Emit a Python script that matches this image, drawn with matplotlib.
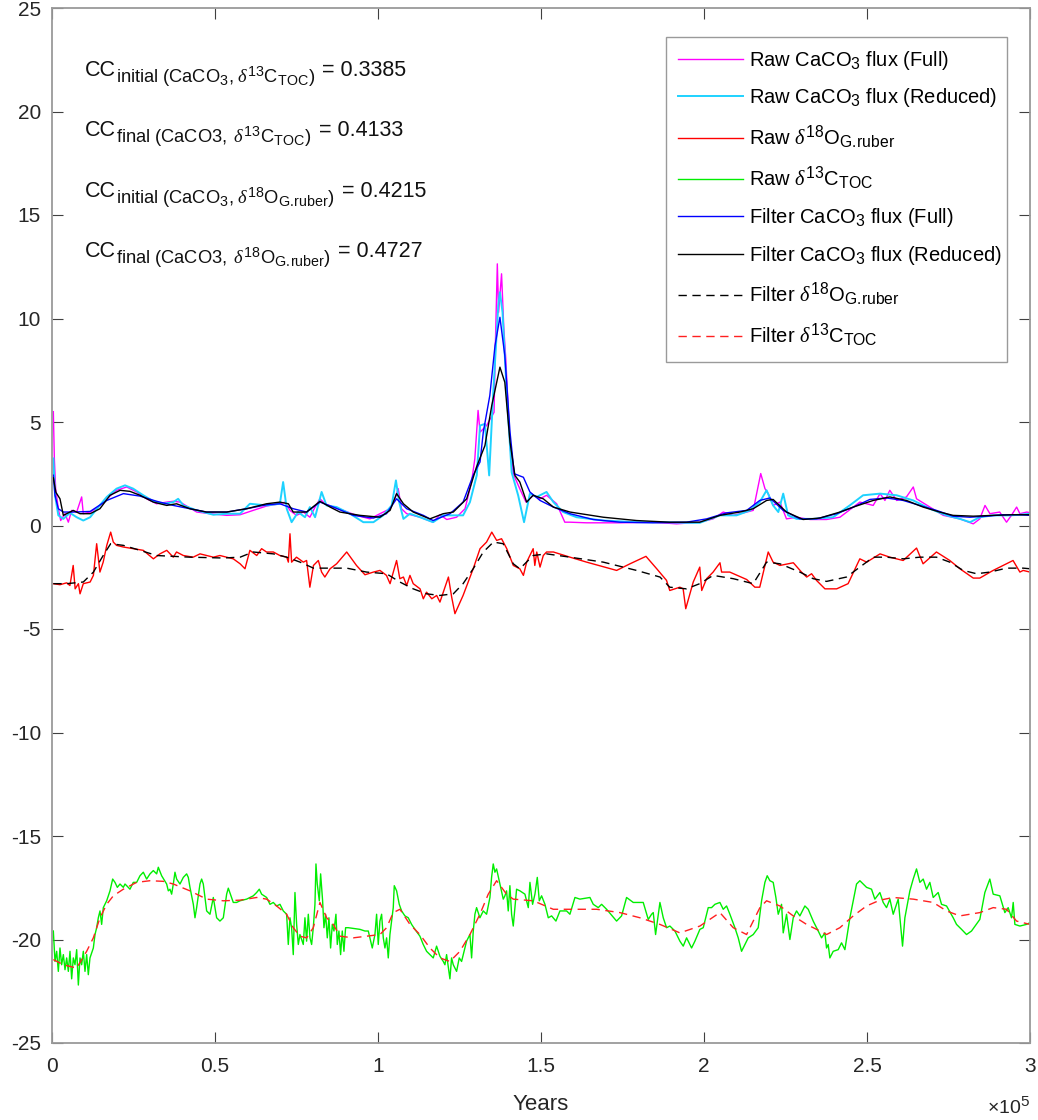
import numpy as np
import matplotlib
matplotlib.use("Agg")
import matplotlib.pyplot as plt
import matplotlib._mathtext as mtext

# MATLAB draws its sub/superscripts a bit larger than mathtext does
mtext.SHRINK_FACTOR = 0.78

plt.rcParams['font.family'] = ['Liberation Sans', 'DejaVu Sans']
plt.rcParams['mathtext.fontset'] = 'custom'
plt.rcParams['mathtext.rm'] = 'Liberation Sans'
plt.rcParams['mathtext.it'] = 'Liberation Serif:italic'
plt.rcParams['mathtext.bf'] = 'Liberation Sans:bold'
plt.rcParams['axes.unicode_minus'] = False

# ---- data (age in kyr) ----
raw_full_kyr = [0.41, 0.72, 1.12, 1.94, 2.66, 3.99, 5.01, 6.03, 7.57, 9.10,
                9.60, 11.7, 14.2, 16.8, 19.8, 22.9, 26.0, 29.0, 32.1, 35.2,
                37.2, 39.3, 41.3, 44.4, 48.5, 53.6, 57.7, 61.7, 65.8, 69.9,
                71.5, 73.0, 75.0, 77.1, 79.1, 80.7, 82.2, 83.7, 86.3, 89.3,
                93.4, 97.5, 100.6, 103.7, 105.2, 106.2, 107.2, 108.8, 112.9, 116.9,
                119.0, 121.1, 124.1, 126.7, 128.7, 129.7, 130.7, 131.3, 133.3, 135.6,
                136.0, 136.6, 137.0, 137.9, 138.6, 139.2, 140.5, 141.5, 143.5, 145.4,
                147.6, 149.7, 151.7, 154.8, 157.3, 158.9, 164.0, 174.2, 184.4, 191.6,
                198.7, 202.8, 205.9, 209.0, 213.1, 215.1, 217.4, 218.7, 219.7, 221.2,
                223.3, 225.3, 228.4, 232.5, 237.6, 241.7, 245.8, 247.8, 251.9, 254.0,
                255.5, 257.0, 259.1, 262.1, 264.2, 265.2, 269.3, 273.4, 278.5, 282.6,
                284.6, 286.2, 287.7, 290.7, 292.8, 294.3, 295.9, 296.9, 299.0, 300.0]
raw_full_val = [5.50, 3.24, 1.78, 0.81, 0.24, 0.57, 0.16, 0.73, 0.65, 1.38,
                0.57, 0.65, 0.89, 1.29, 1.70, 1.86, 1.62, 1.29, 1.05, 1.13,
                1.17, 1.13, 0.94, 0.65, 0.57, 0.49, 0.52, 0.73, 0.94, 1.05,
                1.13, 0.73, 0.49, 0.65, 0.40, 0.89, 1.29, 1.05, 0.89, 0.73,
                0.49, 0.32, 0.57, 0.81, 1.29, 1.78, 0.81, 0.57, 0.40, 0.16,
                0.52, 0.29, 0.40, 0.81, 2.10, 3.22, 5.56, 4.51, 4.83, 5.47,
                8.70, 12.64, 10.30, 12.16, 9.50, 8.05, 3.86, 2.50, 1.77, 1.13,
                1.46, 1.29, 1.46, 1.05, 0.16, 0.16, 0.13, 0.13, 0.16, 0.08,
                0.16, 0.32, 0.65, 0.49, 0.65, 0.73, 2.51, 1.78, 1.54, 0.97,
                1.13, 0.32, 0.40, 0.29, 0.29, 0.40, 0.89, 1.13, 0.97, 1.54,
                1.21, 1.70, 1.21, 1.38, 1.86, 1.29, 0.89, 0.49, 0.32, 0.08,
                0.32, 0.97, 0.57, 0.65, 0.16, 0.49, 0.89, 0.57, 0.65, 0.62]

raw_red_kyr = [0.41, 0.92, 1.94, 3.48, 5.5, 7.57, 9.6, 11.7, 14.2, 16.8,
               19.8, 22.4, 24.9, 28.0, 31.1, 34.1, 37.2, 38.7, 40.3, 44.4,
               49.5, 53.6, 57.7, 60.7, 65.8, 69.9, 70.9, 72.0, 73.5, 75.5,
               77.6, 79.1, 80.7, 82.7, 84.2, 87.3, 91.4, 95.5, 98.6, 101.6,
               104.2, 105.5, 106.5, 107.8, 109.8, 112.9, 116.9, 120.0, 123.1, 126.1,
               128.2, 130.3, 131.3, 132.8, 134.1, 135.3, 136.9, 137.4, 138.2, 139.6,
               141.0, 143.0, 144.8, 146.6, 148.7, 151.7, 153.8, 156.8, 160.9, 169.1,
               179.3, 187.5, 194.6, 198.7, 204.9, 210.0, 214.1, 217.1, 219.2, 221.2,
               222.8, 224.3, 225.8, 228.4, 233.5, 239.6, 244.7, 248.8, 254.0, 259.1,
               264.2, 269.3, 274.4, 278.5, 281.6, 284.6, 288.7, 293.8, 296.9, 300.0]
raw_red_val = [3.24, 1.46, 0.49, 0.32, 0.61, 0.40, 0.24, 0.40, 0.89, 1.38,
               1.78, 1.94, 1.78, 1.46, 1.17, 1.05, 1.13, 1.29, 0.97, 0.73,
               0.52, 0.57, 0.57, 1.05, 0.97, 1.05, 2.10, 0.81, 0.16, 0.65,
               0.40, 0.89, 0.40, 1.62, 0.97, 0.89, 0.57, 0.16, 0.16, 0.49,
               0.97, 2.18, 1.13, 0.32, 0.57, 0.40, 0.16, 0.49, 0.49, 0.49,
               1.13, 2.43, 4.83, 4.91, 2.42, 6.28, 10.63, 11.27, 10.30, 6.12,
               2.57, 1.45, 0.16, 1.54, 1.38, 1.62, 1.13, 0.65, 0.40, 0.24,
               0.16, 0.16, 0.13, 0.13, 0.49, 0.49, 0.73, 1.13, 1.70, 0.97,
               0.65, 1.54, 0.49, 0.32, 0.32, 0.40, 0.97, 1.46, 1.54, 1.46,
               1.21, 0.81, 0.49, 0.32, 0.16, 0.40, 0.49, 0.49, 0.52, 0.57]

d18o_kyr = [0.41, 2.45, 4.5, 5.5, 6.5, 7.1, 8.1, 8.6, 9.6, 11.7,
            12.7, 13.7, 14.7, 15.7, 16.8, 18.0, 18.8, 19.8, 21.9, 24.9,
            28.0, 31.1, 33.1, 35.2, 37.2, 38.2, 40.3, 43.3, 45.4, 47.4,
            49.5, 51.5, 53.6, 55.6, 57.7, 59.2, 60.7, 62.8, 64.3, 65.8,
            67.9, 69.9, 72.0, 72.5, 73.0, 73.5, 75.0, 77.1, 78.1, 79.1,
            80.2, 81.7, 82.7, 83.7, 85.3, 87.3, 90.4, 93.4, 96.0, 98.6,
            100.6, 102.6, 103.7, 105.7, 106.7, 107.8, 108.8, 109.8, 110.8, 112.9,
            113.9, 114.9, 116.5, 118.0, 119.0, 121.6, 122.6, 123.6, 126.1, 129.2,
            131.3, 133.3, 134.9, 136.4, 137.9, 139.5, 141.5,
            143.5, 144.6, 145.6, 146.6, 147.6, 148.1, 148.7, 149.7, 150.7, 151.7,
            153.8, 158.9, 164.0, 173.2, 177.3, 182.2, 185.5, 188.5, 189.5, 192.6,
            193.6, 194.4, 196.7, 198.7, 199.3, 200.8, 202.8, 204.9, 205.4, 207.9,
            213.1, 215.6, 217.1, 219.7, 221.2, 223.3, 227.4, 229.9, 231.5, 233.0,
            234.5, 237.1, 240.7, 244.2, 247.8, 249.9, 254.0, 257.0, 261.1, 265.2,
            267.2, 271.3, 275.4, 278.5, 282.6, 284.6, 288.7, 294.8, 296.9, 297.9,
            300.0]
d18o_val = [-2.81, -2.86, -2.77, -2.90, -1.93, -3.06, -2.81, -3.30, -2.81, -2.73,
            -2.41, -0.88, -2.25, -1.77, -0.96, -0.32, -0.80, -0.96, -1.04, -1.12,
            -1.20, -1.61, -1.37, -1.20, -1.53, -1.28, -1.45, -1.53, -1.37, -1.45,
            -1.53, -1.45, -1.53, -1.61, -1.85, -2.09, -1.20, -1.45, -1.12, -1.28,
            -1.28, -1.45, -1.53, -1.77, -0.40, -1.77, -1.53, -1.77, -1.69, -2.98,
            -1.93, -1.69, -2.25, -2.49, -2.09, -1.85, -1.28, -1.93, -2.38, -2.25,
            -2.17, -2.41, -2.81, -1.69, -2.57, -2.49, -2.90, -2.41, -2.81, -3.06,
            -3.54, -3.22, -3.54, -3.38, -3.70, -2.49, -3.46, -4.26, -3.38, -2.09,
            -1.12, -0.80, -0.32, -0.72, -0.64, -1.12, -1.93,
            -2.09, -2.41, -1.77, -1.45, -1.12, -1.93, -1.28, -2.01, -1.45, -1.28,
            -1.28, -1.53, -1.77, -2.17, -1.85, -1.49, -2.09, -2.65, -3.14, -2.98,
            -3.06, -4.02, -2.73, -2.01, -3.14, -2.57, -2.25, -1.80, -2.25, -2.25,
            -2.61, -2.98, -2.98, -1.28, -1.77, -1.93, -1.80, -2.25, -2.49, -2.33,
            -2.65, -3.06, -3.06, -2.81, -1.61, -1.77, -1.37, -1.53, -1.69, -1.09,
            -1.85, -1.28, -1.69, -2.09, -2.54, -2.54, -2.17, -1.69, -2.25, -2.17,
            -2.25]

d13c_kyr = [0.41, 0.92, 1.43, 1.94, 2.45, 2.96, 3.48, 3.99, 4.50, 5.01,
            5.52, 6.03, 6.54, 7.05, 7.57, 8.08, 8.59, 9.10, 9.61, 10.12,
            10.63, 11.14, 11.65, 12.68, 13.19, 13.70, 14.21, 14.72, 15.23, 15.74,
            16.77, 17.79, 18.61, 19.32, 20.04, 20.86, 21.88, 22.39, 22.90, 23.92,
            24.94, 25.97, 26.99, 28.01, 29.03, 30.06, 31.08, 32.10, 32.61, 33.63,
            35.17, 35.68, 36.19, 36.70, 37.21, 37.72, 38.23, 39.26, 40.28, 41.30,
            41.81, 42.32, 43.35, 43.86, 44.37, 45.39, 45.90, 46.41, 47.44, 48.46,
            49.48, 50.50, 51.52, 52.55, 53.57, 54.08, 55.10, 55.61, 56.63, 57.66,
            59.70, 61.75, 62.77, 63.59, 64.30, 65.84, 66.86, 67.88, 68.90, 69.93,
            70.95, 71.97, 72.48, 72.99, 73.50, 74.01, 74.53, 75.04, 75.55, 76.06,
            77.08, 77.59, 78.10, 78.62, 79.13, 79.64, 80.15, 80.66, 80.97, 81.37,
            81.99, 82.40, 83.01, 83.42, 83.93, 84.44, 84.95, 85.46, 85.98, 86.49,
            87.10, 87.51, 88.02, 88.53, 89.04, 89.55, 90.06, 90.88, 94.46, 95.99,
            97.02, 97.73, 98.24, 99.06, 99.57, 100.08, 100.59, 101.11, 101.62, 102.13,
            102.64, 103.15, 103.66, 104.68, 104.99, 105.71, 106.52, 107.24, 108.26, 109.28,
            110.31, 111.33, 112.86, 113.88, 114.91, 115.93, 116.95, 117.97, 118.99, 120.02,
            120.53, 121.04, 122.06, 122.57, 123.09, 124.11, 124.92, 125.64, 126.15, 127.17,
            128.20, 128.71, 129.22, 129.73, 130.24, 131.26, 132.29, 133.31, 134.33, 134.84,
            135.35, 135.86, 136.38, 137.40, 138.42, 138.93, 139.44, 139.95, 140.46, 140.98,
            141.49, 142.51,
            143.54, 145.07, 146.10, 146.61, 147.42, 148.14, 148.86, 149.47, 150.18, 151.21,
            152.23, 153.25, 154.58, 155.81, 157.85, 158.87, 160.41, 161.94, 165.01, 166.03,
            167.56, 168.59, 170.12, 173.19, 174.72, 176.25, 178.30, 181.36, 182.90, 183.92,
            184.43, 185.15, 186.48, 187.50, 188.52, 189.54, 191.08, 192.61, 193.63, 194.66,
            196.19, 197.21, 198.74, 199.77, 201.30, 202.32, 203.35, 204.88, 205.90, 206.92,
            207.94, 209.48, 210.50, 211.52, 212.55, 213.57, 215.10, 216.63, 217.66, 218.68,
            219.39, 220.21, 221.23, 222.05, 222.77, 223.79, 224.30, 225.32, 226.35, 227.37,
            228.39, 229.41, 230.95, 231.97, 233.50, 235.04, 236.06, 237.08, 237.59, 238.10,
            238.61, 239.64, 241.17, 242.19, 243.22, 244.75, 245.77, 246.79, 247.81, 249.86,
            251.39, 252.41, 253.95, 254.97, 255.99, 257.02, 258.04, 259.57, 260.90, 261.62,
            263.15, 264.17, 265.19, 266.22, 267.24, 268.26, 269.28, 270.31, 271.84, 272.86,
            274.40, 276.44, 277.46, 279.00, 280.53, 282.06, 284.61, 286.15, 287.68, 288.71,
            290.75, 292.29, 293.31, 294.33, 294.85, 295.36, 296.89, 298.93, 299.96]
d13c_val = [-19.59, -21.06, -20.57, -21.54, -20.41, -21.22, -20.73, -21.46, -20.89, -21.54,
            -20.57, -21.90, -20.89, -21.22, -20.49, -22.20, -20.89, -21.22, -20.57, -21.54,
            -20.73, -21.70, -20.89, -20.41, -19.76, -19.43, -18.95, -18.62, -19.27, -18.46,
            -18.13, -17.65, -17.08, -17.24, -17.48, -17.32, -17.48, -17.32, -17.40, -17.57,
            -17.24, -17.24, -16.92, -16.75, -17.08, -16.83, -16.67, -16.83, -16.51, -16.92,
            -17.32, -17.65, -17.57, -17.81, -17.32, -16.75, -17.08, -17.32, -17.00, -16.83,
            -17.00, -17.48, -18.30, -18.95, -18.46, -17.32, -17.08, -17.32, -18.62, -18.78,
            -17.97, -18.95, -19.11, -18.95, -17.81, -17.52, -17.97, -18.21, -18.21, -18.13,
            -18.05, -17.89, -17.73, -17.57, -17.81, -17.97, -18.30, -18.21, -18.38, -18.30,
            -18.62, -18.78, -20.24, -18.95, -19.43, -20.73, -17.73, -19.27, -20.24, -19.76,
            -20.24, -18.95, -20.08, -18.78, -19.92, -20.24, -19.43, -18.30, -16.35, -17.32,
            -18.13, -16.83, -18.13, -19.43, -18.78, -19.92, -18.95, -20.41, -19.27, -19.59,
            -18.78, -20.24, -19.59, -20.73, -19.59, -20.57, -19.43, -19.43, -19.51, -19.59,
            -19.59, -20.08, -20.41, -19.76, -18.78, -20.24, -19.11, -18.78, -19.92, -20.41,
            -19.92, -20.89, -19.76, -18.46, -17.40, -17.65, -18.30, -18.62, -18.86, -18.95,
            -19.27, -19.51, -19.84, -20.24, -20.57, -20.73, -20.89, -20.32, -20.81, -21.06,
            -21.22, -20.73, -21.90, -20.89, -21.22, -21.54, -20.89, -21.06, -20.73, -20.08,
            -19.76, -20.89, -19.59, -18.78, -18.46, -18.95, -18.62, -18.78, -17.97, -17.00,
            -16.35, -16.75, -16.59, -17.32, -18.05, -17.89, -17.65, -18.62, -17.40, -18.78,
            -19.35, -17.57,
            -17.65, -17.81, -18.46, -17.24, -18.30, -17.81, -17.00, -18.13, -17.89, -18.30,
            -18.95, -18.86, -19.11, -18.62, -18.62, -18.78, -17.97, -18.05, -17.97, -18.30,
            -18.46, -18.30, -18.54, -19.11, -18.86, -17.97, -18.21, -18.21, -19.03, -18.78,
            -18.70, -19.76, -18.21, -18.95, -19.43, -19.35, -19.59, -20.08, -20.32, -19.92,
            -20.41, -20.08, -19.51, -19.43, -18.46, -18.46, -18.30, -18.21, -18.54, -18.38,
            -18.78, -19.43, -19.92, -20.57, -20.24, -19.92, -19.76, -19.43, -18.13, -17.24,
            -16.92, -17.16, -17.24, -17.97, -18.78, -18.30, -19.68, -18.78, -20.00, -18.95,
            -18.62, -18.86, -18.38, -18.54, -19.11, -19.59, -19.92, -19.68, -20.41, -20.24,
            -20.89, -20.57, -20.49, -20.16, -20.49, -18.95, -18.13, -17.32, -17.16, -17.48,
            -17.57, -18.05, -17.73, -18.21, -18.46, -18.05, -18.78, -18.05, -20.32, -18.95,
            -17.65, -17.08, -16.59, -17.24, -17.08, -17.57, -17.24, -17.97, -17.73, -18.30,
            -18.38, -18.95, -19.27, -19.51, -19.76, -19.59, -19.03, -17.73, -17.08, -17.81,
            -17.89, -18.70, -18.46, -18.95, -18.21, -19.27, -19.35, -19.27, -19.19]

filt_full_kyr = [0.41, 0.92, 1.94, 3.48, 6.5, 11.7, 16.8, 21.9, 27.0, 32.1,
                 37.2, 42.3, 47.4, 53.6, 59.7, 65.8, 69.9, 74.0, 78.1, 82.2,
                 86.3, 92.4, 98.6, 102.6, 105.7, 108.8, 113.9, 116.9, 122.1, 126.1,
                 129.2, 131.3, 132.3, 134.3, 135.9, 137.4, 138.9, 140.5, 141.8, 144.6,
                 146.6, 149.7, 153.8, 158.9, 166.0, 174.2, 184.4, 194.6, 200.8, 206.9,
                 213.1, 217.1, 220.2, 224.3, 229.4, 234.5, 240.7, 245.8, 250.9, 256.0,
                 261.1, 266.2, 271.3, 276.4, 281.6, 286.7, 291.8, 296.9, 300.0]
filt_full_val = [2.43, 1.46, 0.81, 0.65, 0.65, 0.68, 1.21, 1.54, 1.42, 1.17,
                 0.97, 0.81, 0.65, 0.65, 0.81, 1.00, 1.05, 0.81, 0.65, 1.13,
                 0.89, 0.49, 0.36, 0.57, 1.29, 0.81, 0.49, 0.24, 0.57, 1.13,
                 2.43, 3.07, 4.51, 6.28, 8.70, 10.06, 8.21, 4.51, 2.50, 2.33,
                 1.62, 1.21, 0.89, 0.57, 0.29, 0.16, 0.13, 0.16, 0.32, 0.61,
                 0.73, 1.21, 1.33, 0.73, 0.32, 0.32, 0.57, 0.89, 1.26, 1.33,
                 1.21, 0.97, 0.73, 0.45, 0.40, 0.45, 0.52, 0.52, 0.49]

filt_red_kyr = [0.41, 1.2, 2.45, 3.48, 5.5, 6.5, 8.6, 11.7, 14.7, 17.8,
                20.9, 23.9, 27.0, 31.1, 35.2, 38.2, 42.3, 47.4, 53.6, 59.7,
                65.8, 69.9, 72.5, 74.0, 78.1, 82.2, 85.3, 88.3, 94.5, 100.6,
                103.7, 105.7, 107.8, 110.8, 115.9, 120.0, 123.1, 127.2, 130.2, 132.8,
                134.9, 137.4, 138.9, 140.5, 142.0, 143.5, 145.6, 147.6, 150.7, 153.8,
                158.9, 169.1, 179.3, 189.5, 198.7, 204.9, 211.0, 215.1, 219.2, 221.2,
                225.3, 230.4, 235.5, 241.7, 245.8, 251.9, 257.0, 262.1, 267.2, 272.3,
                276.4, 282.6, 288.7, 294.8, 300.0]
filt_red_val = [2.30, 1.60, 1.29, 0.49, 0.65, 0.73, 0.57, 0.57, 0.81, 1.46,
                1.70, 1.65, 1.46, 1.13, 0.97, 1.05, 0.81, 0.65, 0.65, 0.81,
                1.05, 1.13, 1.05, 0.65, 0.65, 1.17, 0.89, 0.65, 0.49, 0.40,
                0.73, 1.54, 1.05, 0.65, 0.32, 0.57, 0.65, 1.29, 2.82, 3.86,
                5.80, 7.65, 6.92, 4.02, 2.42, 2.10, 1.13, 1.46, 1.29, 0.89,
                0.65, 0.40, 0.24, 0.16, 0.16, 0.49, 0.65, 0.81, 1.21, 1.26,
                0.65, 0.29, 0.36, 0.65, 0.89, 1.21, 1.38, 1.21, 0.89, 0.65,
                0.49, 0.45, 0.49, 0.52, 0.52]

filt_d18o_kyr = [0.41, 4.5, 9.6, 12.7, 15.7, 18.0, 21.9, 27.0, 32.1, 42.3,
                 52.5, 57.7, 61.7, 67.9, 72.0, 76.1, 80.2, 84.2, 90.4, 96.5,
                 102.6, 106.7, 110.8, 114.9, 119.0, 123.1, 126.1, 129.2, 132.3, 135.4,
                 138.4, 141.5, 143.5, 147.6, 151.7, 158.9, 169.1, 179.3, 186.5, 189.5,
                 194.6, 198.7, 202.8, 209.0, 215.1, 219.2, 223.3, 229.4, 233.5, 237.6,
                 243.7, 247.8, 251.9, 256.0, 261.1, 266.2, 271.3, 275.4, 279.5, 283.6,
                 287.7, 292.8, 297.9, 300.0]
filt_d18o_val = [-2.81, -2.81, -2.73, -2.25, -1.45, -0.88, -0.96, -1.20, -1.45, -1.53,
                 -1.57, -1.53, -1.28, -1.37, -1.53, -1.77, -2.06, -2.06, -2.06, -2.25,
                 -2.33, -2.73, -3.06, -3.30, -3.38, -3.30, -2.81, -2.09, -1.28, -0.80,
                 -0.88, -1.85, -2.09, -1.45, -1.37, -1.53, -1.77, -2.17, -2.49, -2.98,
                 -3.06, -2.81, -2.41, -2.57, -2.81, -1.77, -1.85, -2.25, -2.57, -2.70,
                 -2.49, -2.01, -1.53, -1.53, -1.61, -1.53, -1.53, -1.77, -2.17, -2.33,
                 -2.25, -2.06, -2.06, -2.09]

filt_d13c_kyr = [0.41, 3.48, 7.57, 10.63, 12.68, 14.72, 16.77, 18.81, 21.88, 25.97,
                 30.06, 34.15, 37.21, 42.32, 47.44, 52.55, 57.66, 62.77, 65.84, 68.90,
                 71.97, 74.01, 76.06, 78.10, 80.15, 82.19, 84.24, 86.28, 88.33, 92.42,
                 96.51, 100.59, 102.64, 104.68, 106.73, 109.80, 112.86, 115.93, 118.99, 122.06,
                 125.13, 128.20, 131.26, 133.82, 136.38, 139.44, 141.49, 147.63, 153.76, 159.90,
                 167.05, 174.21, 180.34, 186.48, 192.61, 198.74, 204.88, 208.97, 213.06, 217.15,
                 219.19, 223.28, 227.37, 231.46, 235.55, 237.59, 241.68, 245.77, 249.86, 253.95,
                 258.04, 264.17, 270.31, 274.40, 278.48, 284.61, 288.71, 292.80, 295.87, 299.96]
filt_d13c_val = [-20.97, -21.22, -21.38, -20.57, -19.92, -18.95, -18.30, -17.89, -17.57, -17.24,
                 -17.16, -17.19, -17.32, -17.65, -18.05, -18.13, -18.10, -17.97, -18.05, -18.38,
                 -18.78, -19.43, -19.84, -19.92, -19.43, -18.21, -18.95, -19.27, -19.84, -19.92,
                 -19.84, -19.76, -19.43, -18.70, -18.54, -19.27, -19.76, -20.41, -20.89, -21.06,
                 -20.57, -19.76, -18.78, -17.81, -17.16, -17.81, -18.05, -18.13, -18.54, -18.54,
                 -18.54, -18.70, -18.95, -19.27, -19.68, -19.35, -18.70, -19.43, -19.76, -18.46,
                 -18.13, -18.38, -18.86, -19.27, -19.59, -19.76, -19.43, -18.86, -18.38, -18.10,
                 -17.97, -18.05, -18.21, -18.62, -18.86, -18.70, -18.46, -18.54, -19.11, -19.27]

labels = ['Raw CaCO$_3$ flux (Full)',
          'Raw CaCO$_3$ flux (Reduced)',
          r'Raw $\delta^{18}$O$_{\mathrm{G.\!ruber}}$',
          r'Raw $\delta^{13}$C$_{\mathrm{TOC}}$',
          'Filter CaCO$_3$ flux (Full)',
          'Filter CaCO$_3$ flux (Reduced)',
          r'Filter $\delta^{18}$O$_{\mathrm{G.\!ruber}}$',
          r'Filter $\delta^{13}$C$_{\mathrm{TOC}}$']

# correlation notes: "CC" + subscript + value
cc_subs = [r'$\mathrm{initial}\ \mathrm{(CaCO}_{3}\mathrm{,}\ \delta^{13}\mathrm{C}_{\mathrm{TOC}}\mathrm{)}$',
           r'$\mathrm{final}\ \mathrm{(CaCO3,}\ \delta^{13}\mathrm{C}_{\mathrm{TOC}}\mathrm{)}$',
           r'$\mathrm{initial}\ \mathrm{(CaCO}_{3}\mathrm{,}\ \delta^{18}\mathrm{O}_{\mathrm{G.\!ruber}}\mathrm{)}$',
           r'$\mathrm{final}\ \mathrm{(CaCO3,}\ \delta^{18}\mathrm{O}_{\mathrm{G.\!ruber}}\mathrm{)}$']
cc_vals = ['0.3385', '0.4133', '0.4215', '0.4727']
cc_y = [21.7, 18.8, 15.85, 12.95]

xtick_vals = [0, 0.5, 1, 1.5, 2, 2.5, 3]

# ---- figure ----
fig = plt.figure(figsize=(10.38, 11.2), dpi=100)
ax = fig.add_axes([52 / 1038, 1 - 1043 / 1120, 978 / 1038, 1035 / 1120])

def yrs(k):
    return np.array(k) * 1000.0

ax.plot(yrs(raw_full_kyr), raw_full_val, color='#ff00ff', lw=1.0, label=labels[0])
ax.plot(yrs(raw_red_kyr), raw_red_val, color='#1ed2ff', lw=1.4, label=labels[1])
ax.plot(yrs(d18o_kyr), d18o_val, color='#ff0000', lw=1.0, label=labels[2])
ax.plot(yrs(d13c_kyr), d13c_val, color='#00ee00', lw=1.0, label=labels[3])
ax.plot(yrs(filt_full_kyr), filt_full_val, color='#0000ff', lw=1.0, label=labels[4])
ax.plot(yrs(filt_red_kyr), filt_red_val, color='#000000', lw=1.0, label=labels[5])
ax.plot(yrs(filt_d18o_kyr), filt_d18o_val, color='#000000', lw=1.0, ls=(0, (6, 4)), label=labels[6])
ax.plot(yrs(filt_d13c_kyr), filt_d13c_val, color='#ff2020', lw=1.0, ls=(0, (6, 4)), label=labels[7])

ax.set_xlim(0, 3e5)
ax.set_ylim(-25, 25)
ax.set_xticks([v * 1e5 for v in xtick_vals])
ax.set_xticklabels(['%g' % v for v in xtick_vals])
ax.set_yticks(np.arange(-25, 26, 5))

for sp in ax.spines.values():
    sp.set_color('#9a9a9a')
    sp.set_linewidth(1.3)
ax.tick_params(direction='in', top=True, right=True, length=8, width=0.8,
               color='#404040', labelsize=15, labelcolor='#262626')
ax.tick_params(axis='y', pad=8)
ax.tick_params(axis='x', pad=10)
ax.set_xlabel('Years', fontsize=16, color='#262626', labelpad=13)
fig.text(1030 / 1038, 1 - 1118 / 1120, r'$\times\mathregular{10^5}$', fontsize=14,
         ha='right', va='bottom', color='#262626')

for sub, val, y in zip(cc_subs, cc_vals, cc_y):
    t0 = ax.text(10100, y, 'CC', fontsize=15.5, color='#111111', va='baseline', ha='left')
    t1 = ax.annotate(sub, xy=(1, 0), xycoords=t0, xytext=(0.3, -1.0),
                     textcoords='offset points', fontsize=13.2, color='#111111',
                     va='baseline', ha='left')
    ax.annotate('= ' + val, xy=(1, 0), xycoords=(t1, t0), xytext=(5.0, 0),
                textcoords='offset points', fontsize=15.5, color='#111111',
                va='bottom', ha='left')

# legend box spans x 666..1007 px, y 37..361 px
leg = ax.legend(loc='upper left', bbox_to_anchor=(614 / 978, 0.5, 341 / 978, 1006 / 1035 - 0.5),
                mode='expand', borderaxespad=0, fontsize=14.5, handlelength=3.2,
                handletextpad=0.3, labelspacing=0.71, borderpad=0.6,
                fancybox=False, framealpha=1)
leg.get_frame().set_edgecolor('#9a9a9a')
leg.get_frame().set_linewidth(1.0)

fig.savefig('out.png', dpi=100)
